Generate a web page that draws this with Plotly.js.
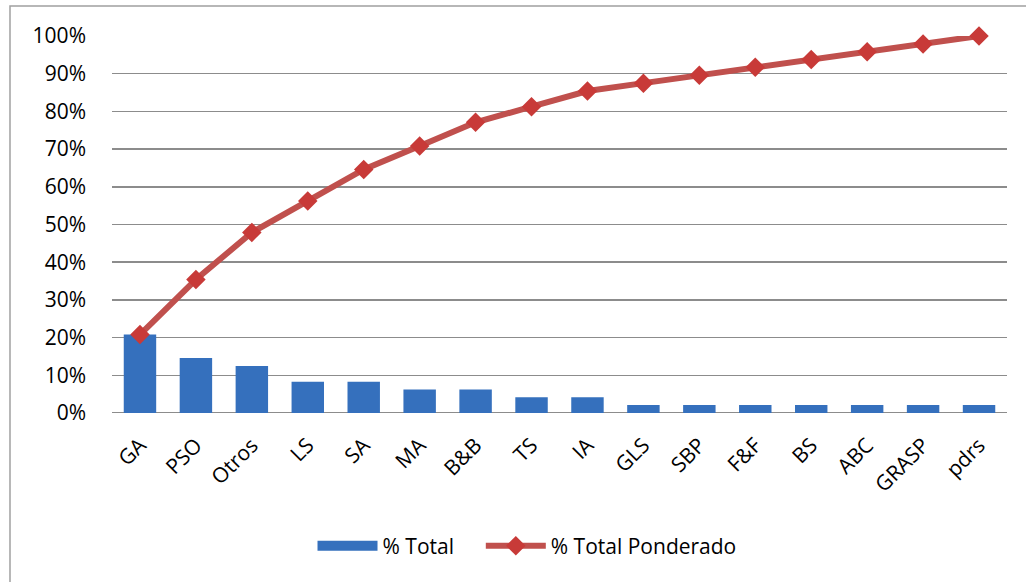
<!DOCTYPE html>
<html>
<head>
<meta charset="utf-8">
<script src="https://cdn.plot.ly/plotly-3.0.1.min.js"></script>
<style>html,body{margin:0;padding:0;background:#fff;}#chart{width:1026px;height:582px;}</style>
</head>
<body>
<div id="chart"></div>
<script>
var categories = ["GA","PSO","Otros","LS","SA","MA","B&B","TS","IA","GLS","SBP","F&F","BS","ABC","GRASP","pdrs"];
var pctTotal = [0.208,0.146,0.125,0.083,0.083,0.0625,0.0625,0.042,0.042,0.021,0.021,0.021,0.021,0.021,0.021,0.021];
var pctCumulative = [0.208,0.354,0.479,0.5625,0.646,0.708,0.771,0.8125,0.854,0.875,0.896,0.917,0.9375,0.958,0.979,1.0];
var yTicks = [0,0.1,0.2,0.3,0.4,0.5,0.6,0.7,0.8,0.9,1.0];
var seriesNames = ["% Total", "% Total Ponderado"];

var fontFam = "'Open Sans', 'Liberation Sans', sans-serif";
var barColor = '#3570bd';

var traces = [
  {
    type: 'scatter', mode: 'lines', name: seriesNames[0] + '\u00a0\u00a0\u00a0\u00a0', x: [null], y: [null],
    line: {color: barColor, width: 16}, showlegend: true, hoverinfo: 'none'
  },
  {
    type: 'bar', name: seriesNames[0], x: categories, y: pctTotal,
    marker: {color: barColor, line: {width: 0}}, showlegend: false,
    hoverinfo: 'none'
  },
  {
    type: 'scatter', mode: 'lines+markers', name: seriesNames[1],
    x: categories, y: pctCumulative, cliponaxis: false,
    line: {color: '#c0504d', width: 6},
    marker: {symbol: 'diamond', size: 15, color: '#c83a38', line: {width: 0}},
    hoverinfo: 'none'
  }
];

var layout = {
  width: 1026, height: 582,
  margin: {l: 112, r: 19, t: 36, b: 169},
  paper_bgcolor: '#ffffff', plot_bgcolor: '#ffffff',
  font: {family: fontFam, size: 21, color: '#000000'},
  showlegend: true,
  bargap: 0.42,
  legend: {orientation: 'h', x: 0.4637, xanchor: 'center', y: -0.353, yanchor: 'middle',
           font: {family: fontFam, size: 21, color: '#000'}, traceorder: 'normal', itemwidth: 60},
  xaxis: {
    type: 'category', range: [-0.5, 15.5], tickangle: -45, showgrid: false, zeroline: false,
    showline: false, ticks: '', ticklabelstandoff: 15,
    tickfont: {family: fontFam, size: 21, color: '#000'}
  },
  yaxis: {
    range: [0, 1.0], tickvals: yTicks, tickformat: '.0%',
    showgrid: true, gridcolor: '#8c8c8c', gridwidth: 1.5, zeroline: false,
    showline: false, ticks: '', ticklabelstandoff: 25,
    tickfont: {family: fontFam, size: 21, color: '#000'},
    automargin: false
  },
  shapes: [
    {type: 'line', xref: 'paper', yref: 'y', x0: 0, x1: 1, y0: 0, y1: 0,
     line: {color: '#8c8c8c', width: 2}, layer: 'below'},
    {type: 'rect', xref: 'paper', yref: 'paper', x0: -0.11397, x1: 1.1, y0: -0.6, y1: 1.0796,
     line: {color: '#a0a0a0', width: 1.5}, fillcolor: 'rgba(0,0,0,0)'}
  ]
};

Plotly.newPlot('chart', traces, layout, {displayModeBar: false, staticPlot: true});
</script>
</body>
</html>
